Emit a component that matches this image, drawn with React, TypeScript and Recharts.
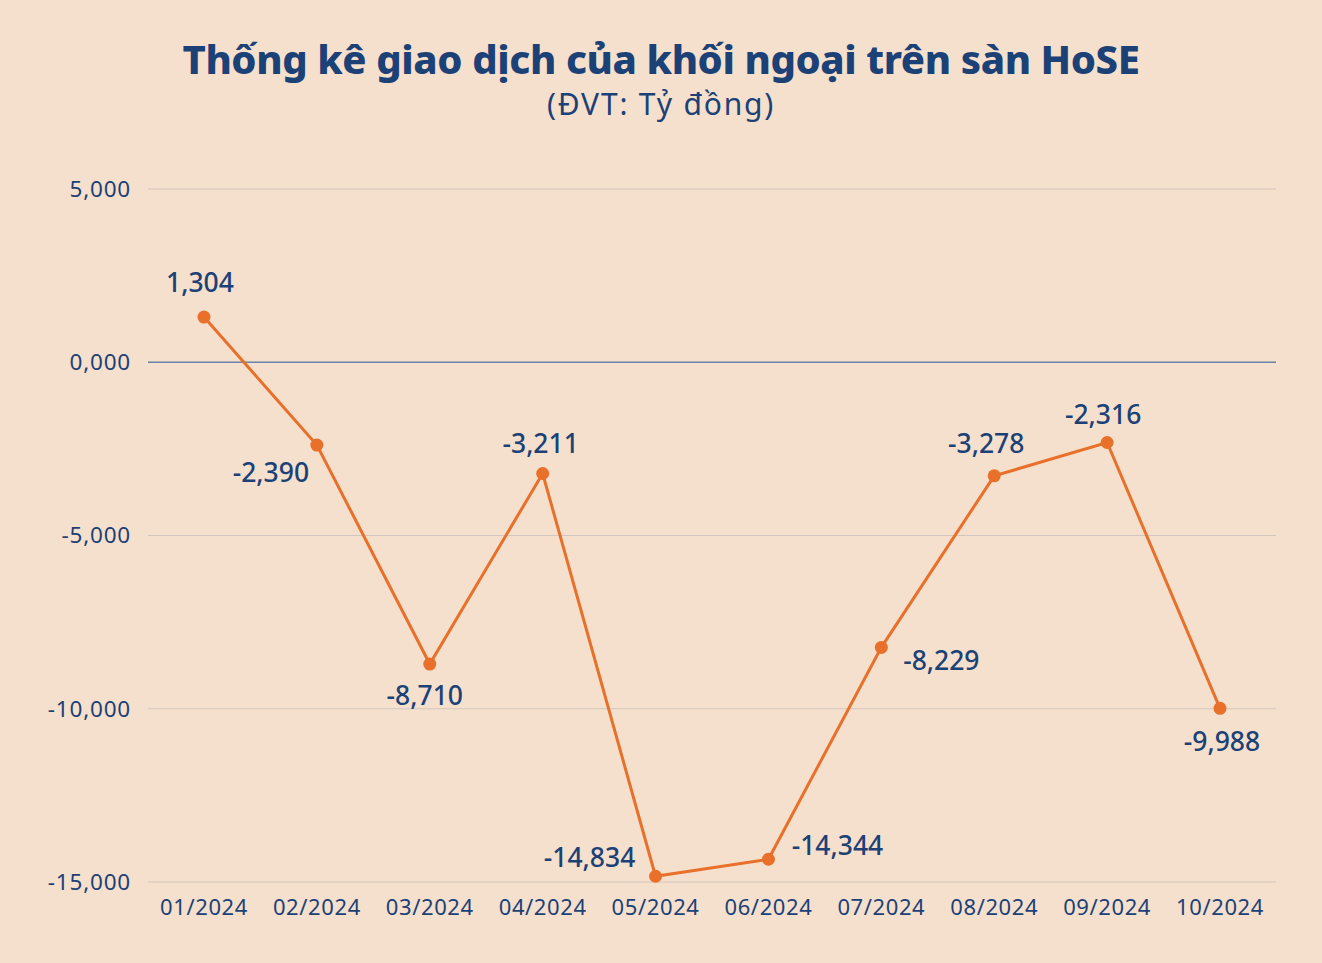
import { LineChart, Line, XAxis, YAxis, CartesianGrid, ReferenceLine, LabelList } from "recharts";

const months = ["01/2024", "02/2024", "03/2024", "04/2024", "05/2024", "06/2024", "07/2024", "08/2024", "09/2024", "10/2024"];
const netValues = [1304, -2390, -8710, -3211, -14834, -14344, -8229, -3278, -2316, -9988];
const yTicks = [5000, 0, -5000, -10000, -15000];

// where each value label sits relative to its dot
const labelOffsets: [number, number][] = [
  [-4, -35], [-46, 27], [-5, 31], [-2, -31], [-66, -19],
  [69, -14], [60, 13], [-8, -33], [-4, -28], [2, 33],
];

const data = months.map((m, i) => ({ month: m, value: netValues[i] }));

const NAVY = "#1C4177";
const ORANGE = "#E8702A";
const BG = "#F5E0CD";
const FONT = "'Noto Sans', Lato, sans-serif";

const fmt = (v: number) => (v === 0 ? "0,000" : v.toLocaleString("en-US"));

function ValueLabel(props: any) {
  const { x, y, value, index } = props;
  const [dx, dy] = labelOffsets[index] ?? [0, -30];
  return (
    <text
      x={x + dx}
      y={y + dy}
      textAnchor="middle"
      dominantBaseline="central"
      fill={NAVY}
      fontSize={26.5}
      fontFamily={FONT}
      fontWeight={500}
    >
      {fmt(value)}
    </text>
  );
}

export default function App() {
  return (
    <div style={{ position: "fixed", left: 0, top: 0, width: 1322, height: 963, background: BG, fontFamily: FONT }}>
      <div style={{ position: "absolute", top: 33, width: "100%", textAlign: "center", color: NAVY }}>
        <div style={{ fontSize: 40, fontWeight: 800, letterSpacing: -0.4, lineHeight: "52px" }}>
          Thống kê giao dịch của khối ngoại trên sàn HoSE
        </div>
        <div style={{ fontSize: 30, fontWeight: 400, letterSpacing: 1.8, lineHeight: "38px" }}>(ĐVT: Tỷ đồng)</div>
      </div>
      <div style={{ position: "absolute", left: 0, top: 0 }}>
        <LineChart width={1322} height={963} data={data} margin={{ top: 189, right: 46, bottom: 0, left: 0 }}>
          <CartesianGrid horizontal vertical={false} stroke="#D3C6BE" strokeWidth={1.2} />
          <XAxis
            dataKey="month"
            axisLine={false}
            tickLine={false}
            height={81}
            tickSize={0}
            tickMargin={17}
            padding={{ left: 56, right: 56 }}
            tick={{ fill: NAVY, fontSize: 22, fontFamily: FONT, letterSpacing: 0.6 }}
          />
          <YAxis
            domain={[-15000, 5000]}
            ticks={yTicks}
            width={148}
            axisLine={false}
            tickLine={false}
            tickSize={0}
            tickMargin={17}
            tickFormatter={fmt}
            tick={{ fill: NAVY, fontSize: 22.5, fontFamily: FONT, letterSpacing: 0.8 }}
          />
          <ReferenceLine y={0} stroke="#6E83A8" strokeWidth={1.3} />
          <Line
            type="linear"
            dataKey="value"
            stroke={ORANGE}
            strokeWidth={3}
            dot={{ r: 6.5, fill: ORANGE, stroke: "none" }}
            activeDot={false}
            isAnimationActive={false}
          >
            <LabelList dataKey="value" content={<ValueLabel />} />
          </Line>
        </LineChart>
      </div>
    </div>
  );
}
